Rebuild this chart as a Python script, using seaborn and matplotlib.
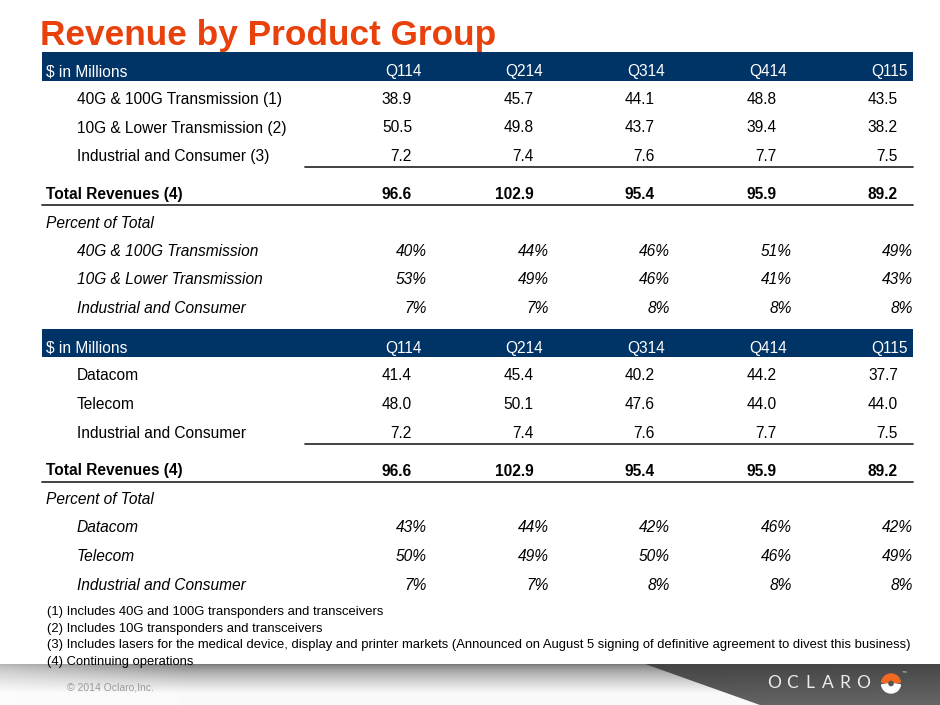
import numpy as np
import matplotlib
matplotlib.use("Agg")
import matplotlib.pyplot as plt
from matplotlib.patches import Rectangle, Polygon, Wedge
from matplotlib import font_manager
import seaborn as sns

# Data
quarters = ["Q114", "Q214", "Q314", "Q414", "Q115"]

pg_labels = ["40G & 100G Transmission (1)", "10G & Lower Transmission (2)", "Industrial and Consumer (3)"]
pg_40g = [38.9, 45.7, 44.1, 48.8, 43.5]
pg_10g = [50.5, 49.8, 43.7, 39.4, 38.2]
pg_ind = [7.2, 7.4, 7.6, 7.7, 7.5]
pg_total = [96.6, 102.9, 95.4, 95.9, 89.2]
pg_pct_labels = ["40G & 100G Transmission", "10G & Lower Transmission", "Industrial and Consumer"]
pg_pct_40g = [40, 44, 46, 51, 49]
pg_pct_10g = [53, 49, 46, 41, 43]
pg_pct_ind = [7, 7, 8, 8, 8]

mk_labels = ["Datacom", "Telecom", "Industrial and Consumer"]
mk_datacom = [41.4, 45.4, 40.2, 44.2, 37.7]
mk_telecom = [48.0, 50.1, 47.6, 44.0, 44.0]
mk_ind = [7.2, 7.4, 7.6, 7.7, 7.5]
mk_total = [96.6, 102.9, 95.4, 95.9, 89.2]
mk_pct_labels = ["Datacom", "Telecom", "Industrial and Consumer"]
mk_pct_datacom = [43, 44, 42, 46, 42]
mk_pct_telecom = [50, 49, 50, 46, 49]
mk_pct_ind = [7, 7, 8, 8, 8]

footnotes = [
    "(1) Includes 40G and 100G transponders and transceivers",
    "(2) Includes 10G transponders and transceivers",
    "(3) Includes lasers for the medical device, display and printer markets (Announced on August 5 signing of definitive agreement to divest this business)",
    "(4) Continuing operations",
]

# Style
sns.set_theme(style="white")
plt.rcParams["font.family"] = ["Liberation Sans", "DejaVu Sans"]
names = {f.name for f in font_manager.fontManager.ttflist}
narrow = "Liberation Sans Narrow" if "Liberation Sans Narrow" in names else "Liberation Sans"

NAVY = "#003366"
ORANGE = "#E8410C"
FS = 11.2

fig = plt.figure(figsize=(9.4, 7.05), dpi=100)
ax = fig.add_axes([0, 0, 1, 1])
ax.set_xlim(0, 940)
ax.set_ylim(705, 0)
ax.axis("off")

col_right = 422 + 121.5 * np.arange(len(quarters))


def draw_section(dy, labels, rows, total, pct_labels, pcts):
    ax.add_patch(Rectangle((42, 52 + dy), 871, 28.5, color=NAVY, lw=0))
    ax.text(46, 76 + dy, "$ in Millions", color="white", fontsize=FS, va="baseline")
    for q, x in zip(quarters, col_right):
        ax.text(x, 76 + dy, q, color="white", fontsize=FS, ha="right", va="baseline")
    for i, (lab, vals) in enumerate(zip(labels, rows)):
        y = 104 + 28.5 * i + dy
        ax.text(77, y, lab, fontsize=FS, va="baseline", color="black")
        for v, x in zip(vals, col_right):
            ax.text(x - 10, y, f"{v:.1f}", fontsize=FS, ha="right", va="baseline", color="black")
    ax.plot([305, 913], [167 + dy, 167 + dy], color="#333333", lw=1.3)
    y = 199 + dy
    ax.text(46, y, "Total Revenues (4)", fontsize=FS, fontweight="bold", va="baseline", color="black")
    for v, x in zip(total, col_right):
        ax.text(x - 10, y, f"{v:.1f}", fontsize=FS, fontweight="bold", ha="right", va="baseline", color="black")
    ax.plot([42, 913], [205 + dy, 205 + dy], color="#333333", lw=1.3)
    ax.text(46, 227.5 + dy, "Percent of Total", fontsize=FS, style="italic", va="baseline", color="black")
    for i, (lab, vals) in enumerate(zip(pct_labels, pcts)):
        y = 256 + 28.5 * i + dy
        ax.text(77, y, lab, fontsize=FS, style="italic", va="baseline", color="black")
        for v, x in zip(vals, col_right):
            ax.text(x + 5, y, f"{v}%", fontsize=FS, style="italic", ha="right", va="baseline", color="black")


draw_section(0, pg_labels, [pg_40g, pg_10g, pg_ind], pg_total,
             pg_pct_labels, [pg_pct_40g, pg_pct_10g, pg_pct_ind])
draw_section(276.5, mk_labels, [mk_datacom, mk_telecom, mk_ind], mk_total,
             mk_pct_labels, [mk_pct_datacom, mk_pct_telecom, mk_pct_ind])

# Title
ax.text(40, 45, "Revenue by Product Group", color=ORANGE, fontsize=25.4, fontweight="bold", va="baseline")

# Footer band
H, W = 41, 940
v = np.linspace(0, 1, H)[:, None]
h = np.linspace(0, 1, W)[None, :]
base = 0.48 + 0.50 * np.clip(v * 1.4, 0, 1) ** 0.7
dark = 0.55 + 0.45 * np.clip(h * 5, 0, 1)
gray = 1 - (1 - base) * dark
img = np.dstack([gray, gray, gray])
ax.imshow(img, extent=(0, 940, 705, 664), aspect="auto", zorder=1)

poly = Polygon([(645, 664), (940, 664), (940, 705), (760, 705)], closed=True,
               facecolor="none", edgecolor="none")
ax.add_patch(poly)
dg = 0.24 + 0.12 * v + 0.04 * h
dimg = ax.imshow(np.dstack([dg, dg, dg]), extent=(0, 940, 705, 664), aspect="auto", zorder=2)
dimg.set_clip_path(poly)

ax.text(67, 690, "\u00a9 2014 Oclaro,Inc.", fontsize=7.5, color="#9a9a9a", va="baseline", zorder=3)

for ch, x in zip("OCLARO", np.linspace(774, 863, 6)):
    ax.text(x, 688.5, ch, fontsize=12.5, color="#ececec", ha="center", va="baseline",
            fontfamily="Lato", zorder=3)
ax.add_patch(Wedge((891, 683.5), 9.5, 188, 352, width=6, color="#F26A21", zorder=3))
ax.add_patch(Wedge((891, 683.5), 9.5, 8, 172, width=6, color="white", zorder=3))
ax.text(902, 673, "\u2122", fontsize=3.5, color="#dddddd", zorder=3)

# Footnotes
fn_texts = []
for i, t in enumerate(footnotes):
    fn_texts.append(ax.text(47, 615 + 16.7 * i, t, fontsize=9.5, fontfamily=narrow,
                            va="baseline", color="black", zorder=4))
fig.canvas.draw()
bb = fn_texts[2].get_window_extent()
scale = 866 / bb.width
for t in fn_texts:
    t.set_fontsize(9.5 * min(scale, 1.3))

fig.savefig("out.png", dpi=100)
